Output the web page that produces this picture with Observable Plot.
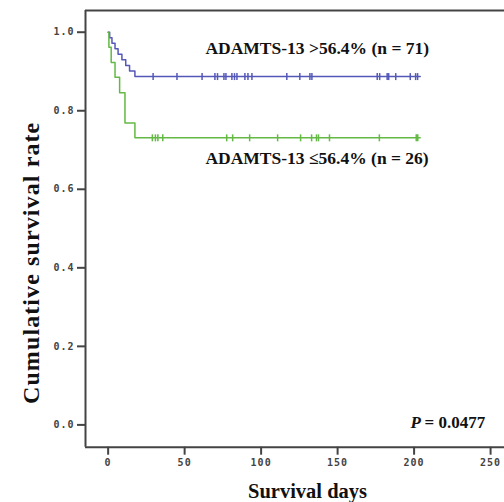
<!DOCTYPE html>
<html>
<head>
<meta charset="utf-8">
<script src="https://cdn.jsdelivr.net/npm/d3@7"></script>
<script src="https://cdn.jsdelivr.net/npm/@observablehq/plot@0.6"></script>
<style>
  html, body { margin: 0; padding: 0; background: #fff; }
  #chart svg { display: block; }
  #chart g[aria-label="x-axis tick label"] text,
  #chart g[aria-label="y-axis tick label"] text { letter-spacing: 1px; }
  #chart .ylab text { letter-spacing: 1.1px; }
</style>
</head>
<body>
<div id="chart"></div>
<script>
// Kaplan–Meier survival by ADAMTS-13 activity
const groups = ["ADAMTS-13 >56.4% (n = 71)", "ADAMTS-13 ≤56.4% (n = 26)"];
const groupColors = ["#5458b8", "#63b944"];

// Event times (days) and survival after each event
const highEventDays = [1, 2.5, 4.5, 6.5, 9, 11.5, 14, 17.5];
const highSurvival  = [0.986, 0.972, 0.958, 0.944, 0.930, 0.915, 0.901, 0.887];
const lowEventDays  = [0.5, 2, 4.5, 7.5, 11, 17.5];
const lowSurvival   = [0.962, 0.923, 0.885, 0.846, 0.769, 0.731];
const followUpEnd   = [204, 204];

// Censored observations (days)
const highCensored = [29.4, 45, 61.4, 69.8, 71.5, 75.7, 77, 80.9, 82.6, 84.2, 89.4, 91.4, 94,
  116.8, 125.3, 131.9, 133.2, 175.9, 177.5, 182.4, 183.4, 188, 197.5, 201, 202.3];
const lowCensored = [28.9, 30.9, 32.5, 35.7, 77.5, 81.4, 92.5, 110.8, 125.8, 133, 136.2,
  137.5, 144.7, 177.3, 201.4, 202.4];

const xTicks = [0, 50, 100, 150, 200, 250];
const yTicks = [0, 0.2, 0.4, 0.6, 0.8, 1.0];
const xDomain = [-14.8, 259.1];
const yDomain = [-0.0568, 1.0553];

const pValueText = "= 0.0477";

// Build step-curve tables
function curve(group, days, surv, end) {
  const pts = [{group, day: 0, s: 1}];
  days.forEach((d, i) => pts.push({group, day: d, s: surv[i]}));
  pts.push({group, day: end, s: surv[surv.length - 1]});
  return pts;
}
const curves = [
  ...curve(groups[0], highEventDays, highSurvival, followUpEnd[0]),
  ...curve(groups[1], lowEventDays, lowSurvival, followUpEnd[1])
];
const censored = [
  ...highCensored.map(day => ({group: groups[0], day, s: highSurvival[highSurvival.length - 1]})),
  ...lowCensored.map(day => ({group: groups[1], day, s: lowSurvival[lowSurvival.length - 1]}))
];

// vertical bar symbol for censor marks
const bar = {
  draw(context, size) {
    const h = Math.sqrt(size / Math.PI);
    context.moveTo(0, -h);
    context.lineTo(0, h);
  }
};

const serif = "'Liberation Serif', 'Times New Roman', serif";
const mono = "'DejaVu Sans Mono', monospace";

const annotations = [
  {day: 63.6, s: 0.96, text: groups[0]},
  {day: 63.6, s: 0.678, text: groups[1]}
];

const plot = Plot.plot({
  width: 504,
  height: 502,
  marginTop: 10,
  marginLeft: 85,
  marginRight: 0,
  marginBottom: 55.3,
  x: {domain: xDomain},
  y: {domain: yDomain},
  color: {domain: groups, range: groupColors},
  marks: [
    Plot.axisX({ticks: xTicks, tickSize: 8, tickPadding: 4, label: null,
      fontFamily: mono, fontSize: 10, fontWeight: "bold", fill: "#444", stroke: "#444", strokeWidth: 2}),
    Plot.axisY({ticks: yTicks, tickFormat: d3.format(".1f"), tickSize: 8, tickPadding: 3, label: null,
      fontFamily: mono, fontSize: 10, fontWeight: "bold", fill: "#444", stroke: "#444", strokeWidth: 2}),
    Plot.ruleX([xDomain[0]], {stroke: "#444", strokeWidth: 2}),
    Plot.ruleY([yDomain[0], yDomain[1]], {stroke: "#444", strokeWidth: 2}),
    Plot.line(curves, {x: "day", y: "s", z: "group", stroke: "group", curve: "step-after", strokeWidth: 1.5}),
    Plot.dot(censored, {x: "day", y: "s", stroke: "group", symbol: bar, r: 3.5, strokeWidth: 1.5, fill: "none"}),
    Plot.text(annotations, {x: "day", y: "s", text: "text", textAnchor: "start", lineAnchor: "middle",
      fontFamily: serif, fontWeight: "bold", fontSize: 17.5, fill: "#111"}),
    Plot.text(["Survival days"], {frameAnchor: "bottom", dx: 12.5, dy: 44, textAnchor: "middle", lineAnchor: "middle",
      fontFamily: serif, fontWeight: "bold", fontSize: 20.5, fill: "#111"}),
    Plot.text(["Cumulative survival rate"], {frameAnchor: "left", dx: -54, dy: 34, rotate: -90,
      textAnchor: "middle", lineAnchor: "middle", className: "ylab",
      fontFamily: serif, fontWeight: "bold", fontSize: 24, fill: "#111"})
  ]
});

// P-value annotation with italic P
const svg = d3.select(plot);
const xs = plot.scale("x"), ys = plot.scale("y");
const pt = svg.append("text")
  .attr("x", xs.apply(246.8))
  .attr("y", ys.apply(0.0066))
  .attr("dy", "0.35em")
  .attr("text-anchor", "end")
  .attr("font-family", serif)
  .attr("font-weight", "bold")
  .attr("font-size", 17)
  .attr("fill", "#111");
pt.append("tspan").attr("font-style", "italic").text("P ");
pt.append("tspan").text(pValueText);

document.getElementById("chart").appendChild(plot);
</script>
</body>
</html>
